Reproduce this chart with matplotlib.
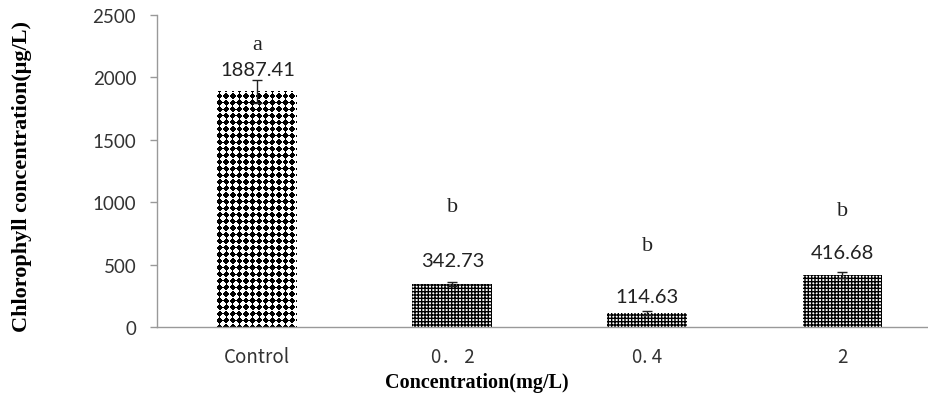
import matplotlib
matplotlib.use("Agg")
import matplotlib.pyplot as plt
import numpy as np

categories = ["Control", "0\uff0e 2", "0. 4", "2"]
values = [1887.41, 342.73, 114.63, 416.68]
errors = [90, 15, 15, 25]
letters = ["a", "b", "b", "b"]
letter_y = [2265, 965, 655, 935]
label_y = [2065, 530, 245, 600]
patterns = ["diamond", "grid", "grid", "grid"]

W, H = 929, 402
fig = plt.figure(figsize=(W / 100, H / 100), dpi=100)
ax_l, ax_b, ax_w, ax_h = 157 / W, 74 / H, 775 / W, 312 / H
ax = fig.add_axes([ax_l, ax_b, ax_w, ax_h])
XLIM = (-0.515, 3.459)
YLIM = (0, 2500)

x = list(range(len(categories)))
for i in x:
    if patterns[i] == "grid":
        b = ax.bar(i, values[i], width=0.41, color="white", edgecolor="#000000",
                   hatch="+++++", linewidth=0, zorder=1)[0]
        try:
            b.set_hatch_linewidth(1.0)
        except Exception:
            pass
    else:
        b = ax.bar(i, values[i], width=0.41, color="white", linewidth=0, zorder=1)[0]
        # rotated checkerboard texture (black diamonds) clipped to the bar
        pw, ph = 775, 312
        yy, xx = np.mgrid[0:ph, 0:pw] + 0.5
        p = 6.6
        u = np.floor((xx + yy) / p)
        v = np.floor((xx - yy) / p)
        tex = ((u + v) % 2 == 0).astype(float)
        im = ax.imshow(1 - tex, cmap="gray", vmin=0, vmax=1, extent=(*XLIM, *YLIM),
                       aspect="auto", interpolation="nearest", zorder=1.5, origin="lower")
        im.set_clip_path(b)

ax.errorbar(x, values, yerr=errors, fmt="none", ecolor="#222222",
            elinewidth=1, capsize=3.5, capthick=1, zorder=3)

tick_font = "Lato"
for i in x:
    ax.text(i, label_y[i], f"{values[i]:.2f}", ha="center", va="center",
            fontsize=14.5, family=tick_font, color="#222222")
    ax.text(i, letter_y[i], letters[i], ha="center", va="center",
            fontsize=16, family="Liberation Serif", color="#222222")

ax.set_xlim(*XLIM)
ax.set_ylim(*YLIM)
ax.set_yticks([0, 500, 1000, 1500, 2000, 2500])
ax.set_xticks(x)
ax.set_xticklabels(categories, family=["Noto Sans CJK SC", tick_font])
for lab in ax.get_yticklabels():
    lab.set_family(tick_font)
ax.tick_params(axis="both", labelsize=13.5, colors="#333333")
ax.tick_params(axis="x", length=0, pad=14)
ax.tick_params(axis="y", length=5, color="#999999", width=1, pad=10)

for s in ["top", "right"]:
    ax.spines[s].set_visible(False)
for s in ["left", "bottom"]:
    ax.spines[s].set_color("#999999")
    ax.spines[s].set_linewidth(1)

ax.set_ylabel("Chlorophyll concentration(\u03bcg/L)", family="Liberation Serif",
              fontweight="bold", fontsize=16)
ax.yaxis.set_label_coords((22 - 157) / 775, 0.487)
ax.set_xlabel("Concentration(mg/L)", family="Liberation Serif",
              fontweight="bold", fontsize=14.5)
ax.xaxis.set_label_coords((477 - 157) / 775, -55 / 312)
ax.xaxis.label.set_va("center")
ax.yaxis.label.set_va("center")

fig.savefig("out.png", dpi=100)
